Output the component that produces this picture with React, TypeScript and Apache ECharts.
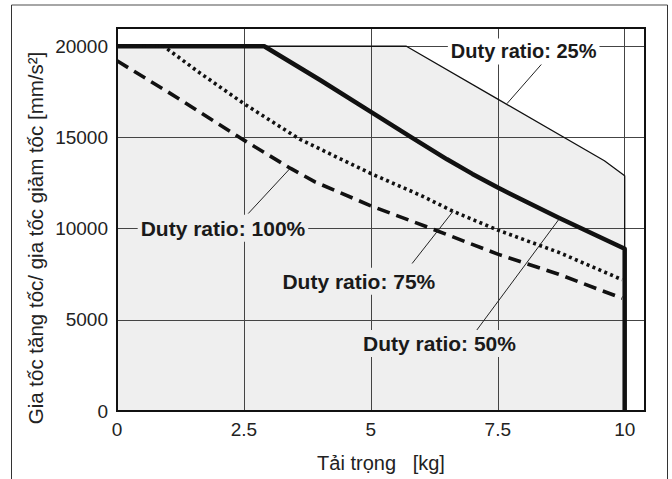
import React, { useEffect, useRef } from "react";
import * as echarts from "echarts";

// ---- data ----
const xTickLabels = ["0", "2.5", "5", "7.5", "10"];
const yTickLabels = ["0", "5000", "10000", "15000", "20000"];

const xAxisTitle = "Tải trọng   [kg]";
const yAxisTitle = "Gia tốc tăng tốc/ gia tốc giảm tốc [mm/s²]";

// Duty ratio 25% (thin solid, envelope of the grey area)
const duty25X = [0, 5.7, 7.5, 9.6, 10, 10];
const duty25Y = [20000, 20000, 17100, 13720, 12900, 0];

// Duty ratio 50% (thick solid)
const duty50X = [0, 2.9, 4, 5, 5.8, 6.5, 7, 7.5, 8, 8.7, 10, 10];
const duty50Y = [20000, 20000, 18150, 16400, 15000, 13800, 13000, 12250, 11550, 10600, 8900, 0];

// Duty ratio 75% (dotted)
const duty75X = [0, 0.92, 1.6, 2.5, 3.6, 5, 6, 6.62, 7.5, 8.7, 9.95];
const duty75Y = [20000, 20000, 18600, 16850, 14900, 13020, 11800, 10950, 9920, 8700, 7200];

// Duty ratio 100% (dashed)
const duty100X = [0, 1, 2.5, 3.42, 3.9, 5, 6.1, 7.5, 8.7, 9.95];
const duty100Y = [19200, 17500, 14850, 13300, 12560, 11250, 10100, 8600, 7500, 6180];

const zip = (xs: number[], ys: number[]) => xs.map((x, i) => [x, ys[i]]);

// annotation texts
const labelTexts = ["Duty ratio: 25%", "Duty ratio: 100%", "Duty ratio: 75%", "Duty ratio: 50%"];

const FONT = '"Liberation Sans", Arial, Helvetica, sans-serif';
const AREA = "#efefef";

// annotation placement in data coordinates
const annotations = [
  { text: labelTexts[0], at: [8.01, 19715], size: 20, bg: "#ffffff", leader: [[8.37, 19041], [7.68, 16850]] },
  { text: labelTexts[1], at: [2.087, 10022], size: 21, bg: AREA, leader: [[2.585, 10827], [3.406, 13291]] },
  { text: labelTexts[2], at: [4.764, 7119], size: 21, bg: AREA, leader: [[5.813, 8088], [6.62, 10950]] },
  { text: labelTexts[3], at: [6.352, 3697], size: 21, bg: AREA, leader: [[7.047, 4288], [8.72, 10570]] },
];

export default function App() {
  const ref = useRef<HTMLDivElement>(null);

  useEffect(() => {
    if (!ref.current) return;
    const chart = echarts.init(ref.current, undefined, { renderer: "svg" });

    const findLabel = (list: string[], v: number) => {
      const s = list.find((l) => Math.abs(Number(l) - v) < 1e-6);
      return s === undefined ? "" : s;
    };

    const option: any = {
      animation: false,
      backgroundColor: "#ffffff",
      grid: {
        left: 117,
        right: 27,
        top: 28,
        bottom: 68,
        show: true,
        borderColor: "#111111",
        borderWidth: 2,
        backgroundColor: "transparent",
        z: 6,
      },
      xAxis: {
        type: "value",
        min: 0,
        max: 10.4,
        interval: 2.5,
        z: 3,
        name: xAxisTitle,
        nameLocation: "middle",
        nameGap: 42,
        nameTextStyle: { fontSize: 20, fontFamily: FONT, color: "#222222" },
        axisLine: { show: false },
        axisTick: { show: false },
        axisLabel: {
          margin: 9,
          fontSize: 19,
          fontFamily: FONT,
          color: "#222222",
          formatter: (v: number) => findLabel(xTickLabels, v),
        },
        splitLine: { show: true, lineStyle: { color: "#444444", width: 1 } },
      },
      yAxis: {
        type: "value",
        min: 0,
        max: 21000,
        interval: 5000,
        z: 3,
        axisLine: { show: false },
        axisTick: { show: false },
        axisLabel: {
          margin: 9,
          fontSize: 19,
          fontFamily: FONT,
          color: "#222222",
          formatter: (v: number) => findLabel(yTickLabels, v),
        },
        splitLine: { show: true, lineStyle: { color: "#444444", width: 1 } },
      },
      series: [
        {
          name: "area",
          type: "line",
          z: 1,
          data: zip(duty25X, duty25Y),
          showSymbol: false,
          symbol: "none",
          lineStyle: { width: 0, opacity: 0 },
          areaStyle: { color: AREA, opacity: 1 },
          silent: true,
        },
        {
          name: labelTexts[0],
          type: "line",
          z: 5,
          data: zip(duty25X, duty25Y),
          symbol: "none",
          lineStyle: { color: "#111111", width: 1.3 },
        },
        {
          name: labelTexts[3],
          type: "line",
          z: 5,
          data: zip(duty50X, duty50Y),
          symbol: "none",
          lineStyle: { color: "#111111", width: 4.5, join: "round" },
        },
        {
          name: labelTexts[2],
          type: "line",
          z: 5,
          data: zip(duty75X, duty75Y),
          symbol: "none",
          lineStyle: { color: "#111111", width: 3.6, type: [3, 3.4] },
        },
        {
          name: labelTexts[1],
          type: "line",
          z: 5,
          data: zip(duty100X, duty100Y),
          symbol: "none",
          lineStyle: { color: "#111111", width: 3.6, type: [13, 7] },
        },
      ],
    };

    chart.setOption(option);

    const px = (p: number[]) => chart.convertToPixel({ gridIndex: 0 }, p) as number[];
    const graphics: any[] = [];
    // outer frame
    graphics.push({ type: "line", z: 20, shape: { x1: 11.5, y1: 5, x2: 667.5, y2: 5 }, style: { stroke: "#888888", lineWidth: 1.5 } });
    graphics.push({ type: "line", z: 20, shape: { x1: 11.5, y1: 5, x2: 11.5, y2: 479 }, style: { stroke: "#333333", lineWidth: 1 } });
    graphics.push({ type: "line", z: 20, shape: { x1: 667.5, y1: 5, x2: 667.5, y2: 479 }, style: { stroke: "#333333", lineWidth: 1 } });
    // y-axis title
    graphics.push({
      type: "text",
      x: 35,
      y: 238,
      rotation: Math.PI / 2,
      z: 20,
      style: { text: yAxisTitle, font: `20.5px ${FONT}`, fill: "#222222", align: "center", verticalAlign: "middle" },
    });
    annotations.forEach((a) => {
      const c = px(a.at);
      const l1 = px(a.leader[0]);
      const l2 = px(a.leader[1]);
      graphics.push({
        type: "line",
        z: 9,
        shape: { x1: l1[0], y1: l1[1], x2: l2[0], y2: l2[1] },
        style: { stroke: "#222222", lineWidth: 1 },
      });
      graphics.push({
        type: "text",
        x: c[0],
        y: c[1],
        z: 10,
        style: {
          text: a.text,
          font: `bold ${a.size}px ${FONT}`,
          fill: "#1a1a1a",
          align: "center",
          verticalAlign: "middle",
          backgroundColor: a.bg,
          padding: [3, 3, 3, 3],
        },
      });
    });
    chart.setOption({ graphic: graphics });

    return () => chart.dispose();
  }, []);

  return (
    <div
      ref={ref}
      style={{ position: "fixed", left: 0, top: 0, width: 672, height: 479 }}
    />
  );
}
